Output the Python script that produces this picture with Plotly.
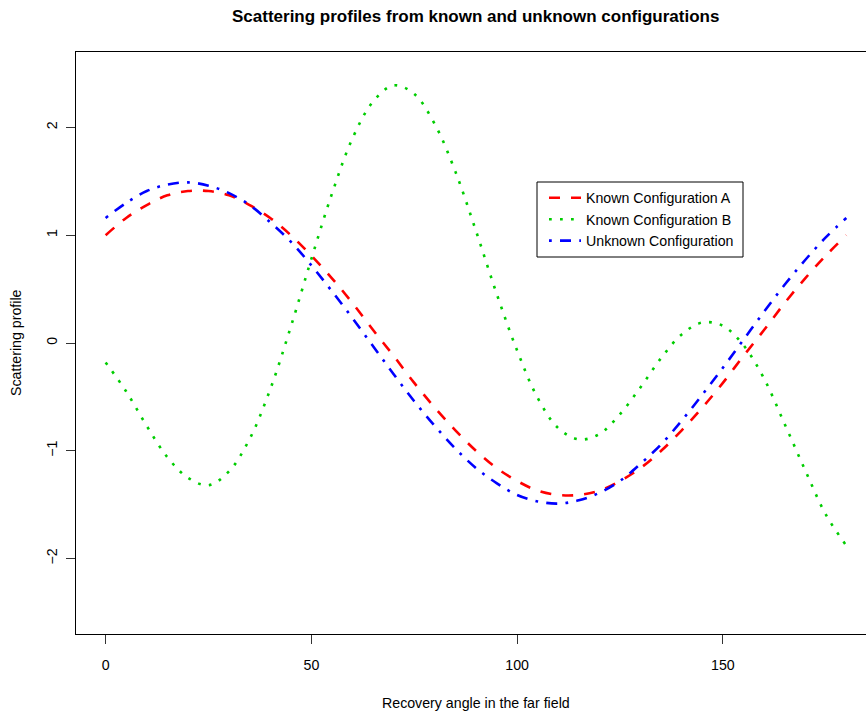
import plotly.graph_objects as go

# Recovery angle (degrees), sampled every 5 degrees
angle = [0, 5, 10, 15, 20, 25, 30, 35, 40, 45, 50, 55, 60, 65, 70, 75, 80, 85, 90,
         95, 100, 105, 110, 115, 120, 125, 130, 135, 140, 145, 150, 155, 160, 165,
         170, 175, 180]

known_a = [1.00, 1.16, 1.28, 1.37, 1.41, 1.41, 1.37, 1.28, 1.16, 1.00, 0.81, 0.60,
           0.37, 0.12, -0.12, -0.37, -0.60, -0.81, -1.00, -1.16, -1.28, -1.37, -1.41,
           -1.41, -1.37, -1.28, -1.16, -1.00, -0.81, -0.60, -0.37, -0.12, 0.12, 0.37,
           0.60, 0.81, 1.00]

known_b = [-0.18, -0.45, -0.77, -1.06, -1.25, -1.32, -1.19, -0.89, -0.43, 0.15, 0.78,
           1.385, 1.90, 2.24, 2.39, 2.31, 2.03, 1.59, 1.04, 0.46, -0.07, -0.51, -0.79,
           -0.895, -0.845, -0.66, -0.41, -0.14, 0.08, 0.19, 0.16, -0.02, -0.33, -0.75,
           -1.18, -1.59, -1.88]

unknown = [1.16, 1.30, 1.41, 1.47, 1.49, 1.46, 1.39, 1.28, 1.12, 0.94, 0.72, 0.48,
           0.23, -0.03, -0.29, -0.54, -0.77, -0.98, -1.16, -1.30, -1.41, -1.47, -1.49,
           -1.46, -1.39, -1.28, -1.12, -0.94, -0.72, -0.48, -0.23, 0.03, 0.29, 0.54,
           0.77, 0.98, 1.16]

x_ticks = [0, 50, 100, 150]
y_ticks = [-2, -1, 0, 1, 2]

FONT = "Liberation Sans, Arial, Helvetica, sans-serif"
FS = 14.2
W, H = 866, 711
L, T, B = 76, 52, 77
plot_w = W - L
plot_h = H - T - B


def px_x(p):
    """Pixel column -> paper x."""
    return (p - L) / plot_w


def px_y(p):
    """Pixel row -> paper y."""
    return 1 - (p - T) / plot_h


fig = go.Figure()
series = [
    ("Known Configuration A", known_a, "#FF0000", "11px,11px"),
    ("Known Configuration B", known_b, "#00CD00", "2.75px,8.25px"),
    ("Unknown Configuration", unknown, "#0000FF", "2.75px,8.25px,11px,8.25px"),
]
for name, vals, color, dash in series:
    fig.add_trace(go.Scatter(
        x=angle, y=vals, mode="lines", name=name,
        line=dict(color=color, width=2.6, dash=dash, shape="spline", smoothing=1.0),
    ))

axis_common = dict(
    showgrid=False, zeroline=False, showline=True, linecolor="black", linewidth=1,
    ticks="outside", ticklen=9, tickwidth=1, tickcolor="#333333",
    tickfont=dict(family=FONT, size=FS, color="black"),
)
fig.update_xaxes(range=[-7.2, -7.2 + plot_w / 4.115], tickvals=x_ticks,
                 mirror=True, ticklabelstandoff=9, **axis_common)
fig.update_yaxes(range=[-2.7, 2.7], tickvals=y_ticks, tickangle=-90,
                 ticklabelstandoff=3, **axis_common)

fig.update_layout(
    width=W, height=H,
    margin=dict(l=L, r=0, t=T, b=B, pad=0),
    paper_bgcolor="white", plot_bgcolor="white",
    font=dict(family=FONT, size=FS, color="black"),
    showlegend=True,
    legend=dict(
        x=px_x(544), y=px_y(182), xanchor="left", yanchor="top",
        bgcolor="rgba(0,0,0,0)", borderwidth=0,
        font=dict(family=FONT, size=FS, color="black"),
        itemwidth=32, tracegroupgap=0,
    ),
    shapes=[
        # legend frame
        dict(type="rect", xref="paper", yref="paper",
             x0=px_x(537), x1=px_x(743), y0=px_y(257), y1=px_y(182),
             line=dict(color="black", width=1), fillcolor="white", layer="below"),
    ],
    annotations=[
        dict(text="<b>Scattering profiles from known and unknown configurations</b>",
             xref="paper", yref="paper", x=px_x(475.7), y=px_y(16),
             xanchor="center", yanchor="middle", showarrow=False,
             font=dict(family=FONT, size=17, color="black")),
        dict(text="Recovery angle in the far field",
             xref="paper", yref="paper", x=px_x(475.7), y=px_y(703),
             xanchor="center", yanchor="middle", showarrow=False,
             font=dict(family=FONT, size=FS, color="black")),
        dict(text="Scattering profile", textangle=-90,
             xref="paper", yref="paper", x=px_x(16), y=0.5,
             xanchor="center", yanchor="middle", showarrow=False,
             font=dict(family=FONT, size=FS, color="black")),
    ],
)

fig.write_html("out.html")
